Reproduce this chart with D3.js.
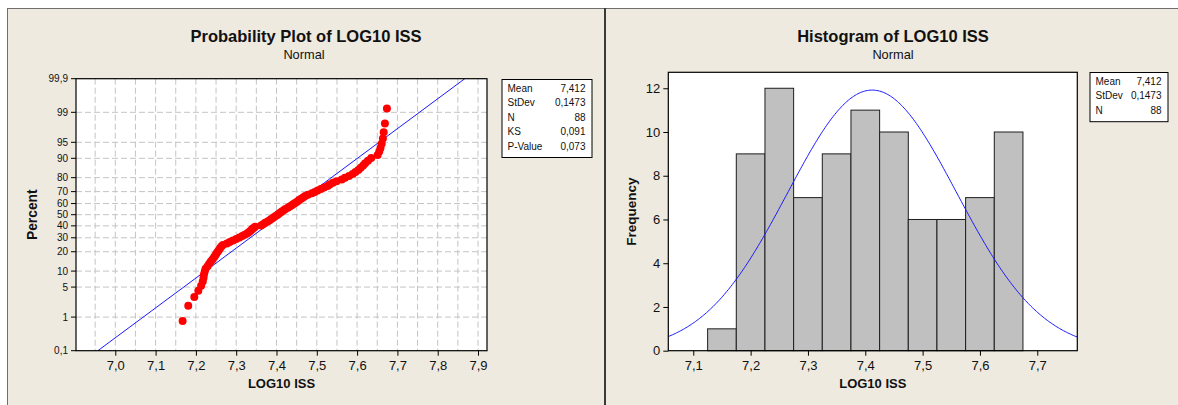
<!DOCTYPE html>
<html>
<head>
<meta charset="utf-8">
<script src="https://cdn.jsdelivr.net/npm/d3@7"></script>
<style>
  html, body { margin: 0; padding: 0; background: #ffffff; }
  svg { display: block; font-family: "Liberation Sans", Arial, sans-serif; }
</style>
</head>
<body>
<svg id="chart" width="1178" height="405"></svg>
<script>
// ---- Data -------------------------------------------------------------
// Sorted LOG10 ISS observations (n = 88)
const logIss = [
  7.167, 7.181, 7.196, 7.206, 7.213, 7.217, 7.219, 7.220, 7.222, 7.224,
  7.229, 7.233, 7.237, 7.241, 7.245, 7.248, 7.251, 7.254, 7.257, 7.260, 7.263, 7.267,
  7.277, 7.284, 7.292, 7.300, 7.308, 7.315, 7.321,
  7.328, 7.332, 7.336, 7.339, 7.343, 7.347, 7.362, 7.367, 7.372,
  7.378, 7.383, 7.387, 7.392, 7.396, 7.401, 7.405, 7.409, 7.413, 7.418, 7.422,
  7.428, 7.433, 7.438, 7.442, 7.447, 7.452, 7.456, 7.461, 7.466, 7.471,
  7.478, 7.488, 7.495, 7.502, 7.510, 7.518,
  7.527, 7.532, 7.540, 7.549, 7.562, 7.570,
  7.580, 7.589, 7.596, 7.603, 7.609, 7.615, 7.620,
  7.627, 7.635, 7.651, 7.655, 7.658, 7.661, 7.664, 7.666, 7.669, 7.674
];

// Histogram bins (midpoints, width 0.05) and their frequencies
const binMids   = [7.15, 7.20, 7.25, 7.30, 7.35, 7.40, 7.45, 7.50, 7.55, 7.60, 7.65];
const binCounts = [1, 9, 12, 7, 9, 11, 10, 6, 6, 7, 10];
const binWidth  = 0.05;

// Summary statistics
const fitMean = 7.412;
const fitSd   = 0.1473;
const sampleN = 88;
const probStatLabels = ["Mean", "StDev", "N", "KS", "P-Value"];
const probStatValues = ["7,412", "0,1473", "88", "0,091", "0,073"];
const histStatLabels = ["Mean", "StDev", "N"];
const histStatValues = ["7,412", "0,1473", "88"];

// Tick values
const probXTicks   = [7.0, 7.1, 7.2, 7.3, 7.4, 7.5, 7.6, 7.7, 7.8, 7.9];
const probXGrid    = [6.95, 7.0, 7.05, 7.1, 7.15, 7.2, 7.25, 7.3, 7.35, 7.4, 7.45, 7.5,
                      7.55, 7.6, 7.65, 7.7, 7.75, 7.8, 7.85, 7.9];
const probPctTicks = [0.1, 1, 5, 10, 20, 30, 40, 50, 60, 70, 80, 90, 95, 99, 99.9];
const histXTicks   = [7.1, 7.2, 7.3, 7.4, 7.5, 7.6, 7.7];
const histYTicks   = [0, 2, 4, 6, 8, 10, 12];

// ---- Helpers ------------------------------------------------------------
// Inverse standard normal CDF (Acklam's rational approximation)
function qnorm(p) {
  const a = [-3.969683028665376e+01, 2.209460984245205e+02, -2.759285104469687e+02,
             1.383577518672690e+02, -3.066479806614716e+01, 2.506628277459239e+00];
  const b = [-5.447609879822406e+01, 1.615858368580409e+02, -1.556989798598866e+02,
             6.680131188771972e+01, -1.328068155288572e+01];
  const c = [-7.784894002430293e-03, -3.223964580411365e-01, -2.400758277161838e+00,
             -2.549671010422597e+00, 4.374664141464968e+00, 2.938163982698783e+00];
  const d = [7.784695709041462e-03, 3.224671290700398e-01, 2.445134137142996e+00,
             3.754408661907416e+00];
  const pl = 0.02425, ph = 1 - pl;
  let q, r;
  if (p < pl) {
    q = Math.sqrt(-2 * Math.log(p));
    return (((((c[0]*q+c[1])*q+c[2])*q+c[3])*q+c[4])*q+c[5]) /
           ((((d[0]*q+d[1])*q+d[2])*q+d[3])*q+1);
  } else if (p <= ph) {
    q = p - 0.5; r = q * q;
    return (((((a[0]*r+a[1])*r+a[2])*r+a[3])*r+a[4])*r+a[5])*q /
           (((((b[0]*r+b[1])*r+b[2])*r+b[3])*r+b[4])*r+1);
  } else {
    q = Math.sqrt(-2 * Math.log(1 - p));
    return -(((((c[0]*q+c[1])*q+c[2])*q+c[3])*q+c[4])*q+c[5]) /
            ((((d[0]*q+d[1])*q+d[2])*q+d[3])*q+1);
  }
}
function dnorm(x, m, s) {
  const z = (x - m) / s;
  return Math.exp(-0.5 * z * z) / (s * Math.sqrt(2 * Math.PI));
}
const commaFmt = (digits) => (v) => d3.format("." + digits + "f")(v).replace(".", ",");
const pctFmt = (v) => String(v).replace(".", ",");

// ---- Layout -------------------------------------------------------------
const svg = d3.select("#chart");
const W = 1178, H = 405;
const BG = "#eeeae0";
const GRID = "#c4c4c4";
const BLUE = "#1a1aff";

// Panel backgrounds and frame
svg.append("rect").attr("x", 7).attr("y", 8).attr("width", W - 7).attr("height", H - 8).attr("fill", BG);
svg.append("line").attr("x1", 7).attr("x2", W).attr("y1", 8.5).attr("y2", 8.5)
  .attr("stroke", "#6e6e6e").attr("stroke-width", 1);
svg.append("line").attr("x1", 7.5).attr("x2", 7.5).attr("y1", 8).attr("y2", H)
  .attr("stroke", "#6e6e6e").attr("stroke-width", 1);
svg.append("line").attr("x1", 605).attr("x2", 605).attr("y1", 8).attr("y2", H)
  .attr("stroke", "#3a3a3a").attr("stroke-width", 2);

// ===================== Probability plot ===================================
const P = { left: 76, right: 487, top: 78.7, bottom: 350.7 };
const zMax = -qnorm(0.001);
const xP = d3.scaleLinear().domain([6.9025, 7.9223]).range([P.left, P.right]);
const zP = d3.scaleLinear().domain([-zMax, zMax]).range([P.bottom, P.top]);
const yPct = (pct) => zP(qnorm(pct / 100));

const gP = svg.append("g");
gP.append("rect").attr("x", P.left).attr("y", P.top)
  .attr("width", P.right - P.left).attr("height", P.bottom - P.top).attr("fill", "#ffffff");

gP.append("clipPath").attr("id", "clipP").append("rect")
  .attr("x", P.left).attr("y", P.top).attr("width", P.right - P.left).attr("height", P.bottom - P.top);

// dashed grid
gP.append("g").selectAll("line").data(probXGrid).join("line")
  .attr("x1", d => xP(d)).attr("x2", d => xP(d))
  .attr("y1", P.top).attr("y2", P.bottom)
  .attr("stroke", GRID).attr("stroke-dasharray", "6,3").attr("stroke-width", 1);
gP.append("g").selectAll("line").data(probPctTicks.filter(v => v > 0.1 && v < 99.9)).join("line")
  .attr("x1", P.left).attr("x2", P.right)
  .attr("y1", d => yPct(d)).attr("y2", d => yPct(d))
  .attr("stroke", GRID).attr("stroke-dasharray", "6,3").attr("stroke-width", 1);

// fitted normal line
gP.append("line").attr("clip-path", "url(#clipP)")
  .attr("x1", xP(fitMean - zMax * fitSd)).attr("y1", zP(-zMax))
  .attr("x2", xP(fitMean + zMax * fitSd)).attr("y2", zP(zMax))
  .attr("stroke", BLUE).attr("stroke-width", 1);

// data points at median-rank plotting positions
const nObs = logIss.length;
gP.append("g").attr("clip-path", "url(#clipP)").selectAll("circle").data(logIss).join("circle")
  .attr("cx", d => xP(d))
  .attr("cy", (d, i) => zP(qnorm((i + 1 - 0.3) / (nObs + 0.4))))
  .attr("r", 4).attr("fill", "#ff0000");

gP.append("rect").attr("x", P.left).attr("y", P.top)
  .attr("width", P.right - P.left).attr("height", P.bottom - P.top)
  .attr("fill", "none").attr("stroke", "#000").attr("stroke-width", 1.2);

// axes
const axPX = gP.append("g").attr("transform", `translate(0,${P.bottom})`)
  .call(d3.axisBottom(xP).tickValues(probXTicks).tickSize(5).tickPadding(5).tickFormat(commaFmt(1)));
axPX.select(".domain").remove();
axPX.selectAll("text").attr("font-size", 13).attr("fill", "#111").attr("font-family", null);

const yPscale = d3.scaleLinear().domain([0, 1]).range([0, 1]); // placeholder for axis positioning
const axPY = gP.append("g").attr("transform", `translate(${P.left},0)`);
axPY.selectAll("g").data(probPctTicks).join("g")
  .attr("transform", d => `translate(0,${yPct(d)})`)
  .each(function (d) {
    const g = d3.select(this);
    g.append("line").attr("x1", -5).attr("x2", 0).attr("stroke", "#000");
    g.append("text").attr("x", -8).attr("dy", "0.35em").attr("text-anchor", "end")
      .attr("font-size", 10).attr("fill", "#111").text(pctFmt(d));
  });

// titles
gP.append("text").attr("x", 306).attr("y", 42).attr("text-anchor", "middle")
  .attr("font-size", 16.5).attr("font-weight", "bold").attr("fill", "#111")
  .text("Probability Plot of LOG10 ISS");
gP.append("text").attr("x", 304).attr("y", 59).attr("text-anchor", "middle")
  .attr("font-size", 12.8).attr("fill", "#111").text("Normal");
gP.append("text").attr("x", (P.left + P.right) / 2).attr("y", 388).attr("text-anchor", "middle")
  .attr("font-size", 13).attr("font-weight", "bold").attr("fill", "#111").text("LOG10 ISS");
gP.append("text").attr("transform", `translate(37,${(P.top + P.bottom) / 2}) rotate(-90)`)
  .attr("text-anchor", "middle").attr("font-size", 13.8).attr("font-weight", "bold")
  .attr("fill", "#111").text("Percent");

// stats box
function statBox(x, y, w, rowH, labels, values) {
  const g = svg.append("g");
  g.append("rect").attr("x", x + 0.5).attr("y", y + 0.5).attr("width", w)
    .attr("height", rowH * labels.length + 6).attr("fill", "#ffffff")
    .attr("stroke", "#000").attr("stroke-width", 1);
  labels.forEach((lab, i) => {
    const by = y + 13 + i * rowH;
    g.append("text").attr("x", x + 6).attr("y", by).attr("font-size", 10)
      .attr("fill", "#111").text(lab);
    g.append("text").attr("x", x + w - 6).attr("y", by).attr("text-anchor", "end")
      .attr("font-size", 10).attr("fill", "#111").text(values[i]);
  });
}
statBox(501.5, 79, 90, 14.4, probStatLabels, probStatValues);

// ===================== Histogram ==========================================
const Hh = { left: 668.3, right: 1077.3, top: 72.3, bottom: 350.7 };
const xH = d3.scaleLinear().domain([7.0564, 7.7698]).range([Hh.left, Hh.right]);
const yH = d3.scaleLinear().domain([0, 12.73]).range([Hh.bottom, Hh.top]);

const gH = svg.append("g");
gH.append("rect").attr("x", Hh.left).attr("y", Hh.top)
  .attr("width", Hh.right - Hh.left).attr("height", Hh.bottom - Hh.top).attr("fill", "#ffffff");
gH.append("clipPath").attr("id", "clipH").append("rect")
  .attr("x", Hh.left).attr("y", Hh.top).attr("width", Hh.right - Hh.left).attr("height", Hh.bottom - Hh.top);

gH.append("g").selectAll("rect").data(binMids).join("rect")
  .attr("x", d => xH(d - binWidth / 2))
  .attr("width", d => xH(d + binWidth / 2) - xH(d - binWidth / 2))
  .attr("y", (d, i) => yH(binCounts[i]))
  .attr("height", (d, i) => yH(0) - yH(binCounts[i]))
  .attr("fill", "#c0c0c0").attr("stroke", "#1e1e1e").attr("stroke-width", 1);

// fitted normal density scaled to counts
const curveXs = d3.range(0, 301).map(k => xH.domain()[0] + (xH.domain()[1] - xH.domain()[0]) * k / 300);
gH.append("path").attr("clip-path", "url(#clipH)")
  .datum(curveXs)
  .attr("d", d3.line().x(d => xH(d)).y(d => yH(sampleN * binWidth * dnorm(d, fitMean, fitSd))))
  .attr("fill", "none").attr("stroke", BLUE).attr("stroke-width", 1);

gH.append("rect").attr("x", Hh.left).attr("y", Hh.top)
  .attr("width", Hh.right - Hh.left).attr("height", Hh.bottom - Hh.top)
  .attr("fill", "none").attr("stroke", "#000").attr("stroke-width", 1.2);

const axHX = gH.append("g").attr("transform", `translate(0,${Hh.bottom})`)
  .call(d3.axisBottom(xH).tickValues(histXTicks).tickSize(5).tickPadding(5).tickFormat(commaFmt(1)));
axHX.select(".domain").remove();
axHX.selectAll("text").attr("font-size", 13).attr("fill", "#111").attr("font-family", null);

const axHY = gH.append("g").attr("transform", `translate(${Hh.left},0)`)
  .call(d3.axisLeft(yH).tickValues(histYTicks).tickSize(5).tickPadding(3).tickFormat(d3.format("d")));
axHY.select(".domain").remove();
axHY.selectAll("text").attr("font-size", 13).attr("fill", "#111").attr("font-family", null);

gH.append("text").attr("x", 893).attr("y", 42).attr("text-anchor", "middle")
  .attr("font-size", 16.5).attr("font-weight", "bold").attr("fill", "#111")
  .text("Histogram of LOG10 ISS");
gH.append("text").attr("x", 893).attr("y", 59).attr("text-anchor", "middle")
  .attr("font-size", 12.8).attr("fill", "#111").text("Normal");
gH.append("text").attr("x", (Hh.left + Hh.right) / 2).attr("y", 388).attr("text-anchor", "middle")
  .attr("font-size", 13).attr("font-weight", "bold").attr("fill", "#111").text("LOG10 ISS");
gH.append("text").attr("transform", `translate(636,${(Hh.top + Hh.bottom) / 2}) rotate(-90)`)
  .attr("text-anchor", "middle").attr("font-size", 13.5).attr("font-weight", "bold")
  .attr("fill", "#111").text("Frequency");

statBox(1089.5, 72, 78, 14.4, histStatLabels, histStatValues);
</script>
</body>
</html>
